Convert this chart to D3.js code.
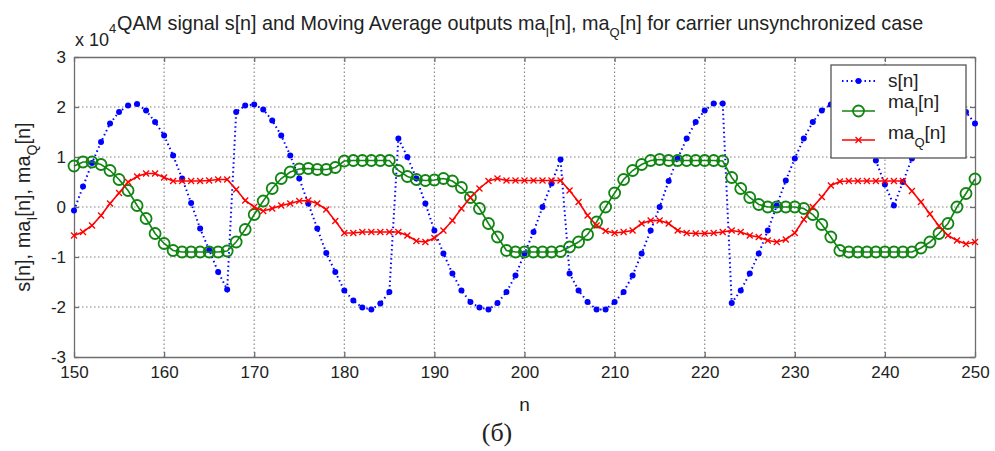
<!DOCTYPE html>
<html>
<head>
<meta charset="utf-8">
<script src="https://cdn.jsdelivr.net/npm/d3@7"></script>
<style>
  body { margin: 0; background: #fff; }
  text { font-family: "Liberation Sans", Arial, sans-serif; fill: #222; }
</style>
</head>
<body>
<div id="chart"></div>
<script>
// sample index n
const nValues = d3.range(150, 251);

// s[n] (x 10^4)
const sValues = [
  -0.07, 0.41, 0.88, 1.3, 1.67, 1.9, 2.03, 2.06, 1.93, 1.7,
  1.43, 1.03, 0.57, 0.08, -0.43, -0.86, -1.3, -1.65, 1.9, 2.03,
  2.05, 1.95, 1.73, 1.43, 1.03, 0.57, 0.07, -0.43, -0.92, -1.3,
  -1.67, -1.87, -2.01, -2.05, -1.93, -1.7, 1.37, 1.0, 0.57, 0.07,
  -0.47, -0.93, -1.33, -1.67, -1.9, -2.01, -2.05, -1.92, -1.7, -1.37,
  -0.93, -0.5, 0.0, 0.47, 0.95, -1.33, -1.67, -1.9, -2.05, -2.05,
  -1.9, -1.7, -1.37, -0.93, -0.47, 0.0, 0.52, 0.97, 1.37, 1.7,
  1.93, 2.07, 2.07, -1.92, -1.67, -1.33, -0.93, -0.47, 0.03, 0.53,
  0.97, 1.37, 1.7, 1.93, 2.05, 2.05, 1.93, 1.7, 1.37, 0.93,
  0.45, 0.03, 0.5, 0.97, 1.37, 1.7, 1.93, 2.05, 2.05, 1.9,
  1.67
];

// ma_I[n]
const maIValues = [
  0.82, 0.9, 0.9, 0.85, 0.73, 0.55, 0.33, 0.03, -0.23, -0.53,
  -0.73, -0.87, -0.9, -0.9, -0.9, -0.9, -0.9, -0.88, -0.7, -0.45,
  -0.15, 0.12, 0.37, 0.57, 0.7, 0.76, 0.77, 0.75, 0.75, 0.79,
  0.92, 0.93, 0.93, 0.93, 0.93, 0.93, 0.73, 0.61, 0.55, 0.53,
  0.54, 0.57, 0.52, 0.39, 0.19, -0.03, -0.33, -0.6, -0.87, -0.9,
  -0.9, -0.9, -0.9, -0.9, -0.89, -0.8, -0.7, -0.55, -0.3, 0.0,
  0.28, 0.55, 0.73, 0.85, 0.93, 0.95, 0.93, 0.93, 0.93, 0.93,
  0.93, 0.93, 0.92, 0.59, 0.37, 0.19, 0.05, 0.0, 0.0, 0.0,
  0.0, -0.03, -0.15, -0.35, -0.6, -0.87, -0.9, -0.9, -0.9, -0.9,
  -0.9, -0.9, -0.9, -0.9, -0.82, -0.7, -0.53, -0.33, 0.0, 0.27,
  0.56
];

// ma_Q[n]
const maQValues = [
  -0.57, -0.5, -0.37, -0.17, 0.07, 0.28, 0.5, 0.61, 0.67, 0.67,
  0.59, 0.52, 0.52, 0.52, 0.52, 0.53, 0.55, 0.55, 0.35, 0.13,
  0.0, -0.08, -0.03, 0.03, 0.07, 0.12, 0.13, 0.07, -0.05, -0.28,
  -0.52, -0.52, -0.5, -0.5, -0.5, -0.5, -0.5, -0.57, -0.68, -0.7,
  -0.62, -0.47, -0.27, -0.03, 0.19, 0.37, 0.52, 0.57, 0.53, 0.53,
  0.53, 0.53, 0.53, 0.53, 0.53, 0.33, 0.1, -0.17, -0.37, -0.48,
  -0.52, -0.5, -0.47, -0.33, -0.27, -0.27, -0.33, -0.47, -0.52, -0.53,
  -0.53, -0.52, -0.5, -0.47, -0.5, -0.57, -0.6, -0.67, -0.7, -0.65,
  -0.52, -0.25, 0.0, 0.2, 0.43, 0.51, 0.52, 0.52, 0.52, 0.52,
  0.52, 0.52, 0.52, 0.32, 0.1, -0.14, -0.38, -0.57, -0.67, -0.74,
  -0.7
];

const xTicks = [150, 160, 170, 180, 190, 200, 210, 220, 230, 240, 250];
const yTicks = [-3, -2, -1, 0, 1, 2, 3];

const width = 995, height = 451;
const margin = { top: 57, right: 20, bottom: 94, left: 74 };
const plotW = width - margin.left - margin.right;
const plotH = height - margin.top - margin.bottom;

const svg = d3.select("#chart").append("svg")
  .attr("width", width).attr("height", height);

const x = d3.scaleLinear().domain([150, 250]).range([margin.left, margin.left + plotW]);
const y = d3.scaleLinear().domain([-3, 3]).range([margin.top + plotH, margin.top]);

// grid (dotted)
const grid = svg.append("g").attr("stroke", "#808080").attr("stroke-width", 1.1)
  .attr("stroke-dasharray", "1.5,2.5");
xTicks.slice(1, -1).forEach(t => {
  grid.append("line").attr("x1", x(t)).attr("x2", x(t))
    .attr("y1", y(-3)).attr("y2", y(3));
});
yTicks.slice(1, -1).forEach(t => {
  grid.append("line").attr("x1", x(150)).attr("x2", x(250))
    .attr("y1", y(t)).attr("y2", y(t));
});

// axes with inward ticks, box on
const axisCol = "#6e6e6e";
const fmt = d => String(d).replace("\u2212", "-");
const xAxis = svg.append("g").attr("transform", `translate(0,${y(-3)})`)
  .call(d3.axisBottom(x).tickValues(xTicks).tickFormat(fmt).tickSizeInner(-5).tickSizeOuter(0).tickPadding(9));
const yAxis = svg.append("g").attr("transform", `translate(${x(150)},0)`)
  .call(d3.axisLeft(y).tickValues(yTicks).tickFormat(fmt).tickSizeInner(-5).tickSizeOuter(0).tickPadding(8));
const xTop = svg.append("g").attr("transform", `translate(0,${y(3)})`)
  .call(d3.axisTop(x).tickValues(xTicks).tickSizeInner(-5).tickSizeOuter(0).tickFormat(""));
const yRight = svg.append("g").attr("transform", `translate(${x(250)},0)`)
  .call(d3.axisRight(y).tickValues(yTicks).tickSizeInner(-5).tickSizeOuter(0).tickFormat(""));
[xAxis, yAxis, xTop, yRight].forEach(a => {
  a.selectAll("path,line").attr("stroke", axisCol).attr("stroke-width", 1.3);
  a.selectAll("text").style("font-size", "17px")
    .style("font-family", "'Liberation Sans', Arial, sans-serif").attr("fill", "#222");
});

const pts = arr => arr.map((v, i) => ({ n: nValues[i], v: v }));
const line = d3.line().x(d => x(d.n)).y(d => y(d.v));

// s[n]: blue dotted with point markers
const sData = pts(sValues);
svg.append("path").datum(sData).attr("d", line)
  .attr("fill", "none").attr("stroke", "#0000ff").attr("stroke-width", 2)
  .attr("stroke-dasharray", "1.5,3");
svg.append("g").selectAll("circle").data(sData).join("circle")
  .attr("cx", d => x(d.n)).attr("cy", d => y(d.v)).attr("r", 3)
  .attr("fill", "#0000ff");

// ma_I[n]: green with circles
const green = "#118511";
const iData = pts(maIValues);
svg.append("path").datum(iData).attr("d", line)
  .attr("fill", "none").attr("stroke", green).attr("stroke-width", 1.6);
svg.append("g").selectAll("circle").data(iData).join("circle")
  .attr("cx", d => x(d.n)).attr("cy", d => y(d.v)).attr("r", 5.5)
  .attr("fill", "none").attr("stroke", green).attr("stroke-width", 1.8);

// ma_Q[n]: red with x markers
const red = "#ff0000";
const qData = pts(maQValues);
svg.append("path").datum(qData).attr("d", line)
  .attr("fill", "none").attr("stroke", red).attr("stroke-width", 1.6);
const xm = 3;
svg.append("g").selectAll("path").data(qData).join("path")
  .attr("d", d => `M${x(d.n) - xm},${y(d.v) - xm}L${x(d.n) + xm},${y(d.v) + xm}M${x(d.n) - xm},${y(d.v) + xm}L${x(d.n) + xm},${y(d.v) - xm}`)
  .attr("stroke", red).attr("stroke-width", 1.3);

// legend
const lfs = "19px", lsub = "13px";
const lg = svg.append("g").attr("transform", "translate(831,65)");
lg.append("rect").attr("width", 135).attr("height", 93)
  .attr("fill", "#fff").attr("stroke", "#555").attr("stroke-width", 1.3);
// s[n]
lg.append("line").attr("x1", 11).attr("x2", 44).attr("y1", 16).attr("y2", 16)
  .attr("stroke", "#0000ff").attr("stroke-width", 2).attr("stroke-dasharray", "1.5,3");
lg.append("circle").attr("cx", 27.5).attr("cy", 16).attr("r", 3).attr("fill", "#0000ff");
lg.append("text").attr("x", 57).attr("y", 22).style("font-size", lfs).text("s[n]");
// ma_I
lg.append("line").attr("x1", 11).attr("x2", 44).attr("y1", 46).attr("y2", 46)
  .attr("stroke", green).attr("stroke-width", 1.6);
lg.append("circle").attr("cx", 27.5).attr("cy", 46).attr("r", 5.5)
  .attr("fill", "none").attr("stroke", green).attr("stroke-width", 1.8);
const tI = lg.append("text").attr("x", 57).attr("y", 43).style("font-size", lfs);
tI.append("tspan").text("ma");
tI.append("tspan").attr("dy", 8).style("font-size", lsub).text("I");
tI.append("tspan").attr("dy", -8).text("[n]");
// ma_Q
lg.append("line").attr("x1", 11).attr("x2", 44).attr("y1", 75).attr("y2", 75)
  .attr("stroke", red).attr("stroke-width", 1.6);
lg.append("path").attr("d", "M24.5,72L30.5,78M24.5,78L30.5,72").attr("stroke", red).attr("stroke-width", 1.3);
const tQ = lg.append("text").attr("x", 57).attr("y", 74).style("font-size", lfs);
tQ.append("tspan").text("ma");
tQ.append("tspan").attr("dy", 8).style("font-size", lsub).text("Q");
tQ.append("tspan").attr("dy", -8).text("[n]");

// exponent label
const ex = svg.append("text").attr("x", 75).attr("y", 46).style("font-size", "18px");
ex.append("tspan").text("x 10");
ex.append("tspan").attr("dy", -13).style("font-size", "13px").text("4");

// title
const title = svg.append("text").attr("x", 117).attr("y", 30).style("font-size", "19.8px");
title.append("tspan").text("QAM signal s[n] and Moving Average outputs ma");
title.append("tspan").attr("dy", 7).style("font-size", "13px").text("I");
title.append("tspan").attr("dy", -7).text("[n], ma");
title.append("tspan").attr("dy", 7).style("font-size", "13px").text("Q");
title.append("tspan").attr("dy", -7).text("[n] for carrier unsynchronized case");

// y label
const yl = svg.append("text")
  .attr("transform", `translate(30,${y(0)}) rotate(-90)`)
  .attr("text-anchor", "middle").style("font-size", "20px");
yl.append("tspan").text("s[n], ma");
yl.append("tspan").attr("dy", 7).style("font-size", "14px").text("I");
yl.append("tspan").attr("dy", -7).text("[n], ma");
yl.append("tspan").attr("dy", 7).style("font-size", "14px").text("Q");
yl.append("tspan").attr("dy", -7).text("[n]");

// x label
svg.append("text").attr("x", x(200)).attr("y", 411).attr("text-anchor", "middle")
  .style("font-size", "19px").text("n");

// caption
svg.append("text").attr("x", 497).attr("y", 441).attr("text-anchor", "middle")
  .style("font-family", "'Liberation Serif', 'Times New Roman', serif")
  .style("font-size", "26px").attr("fill", "#000").text("(б)");
</script>
</body>
</html>
